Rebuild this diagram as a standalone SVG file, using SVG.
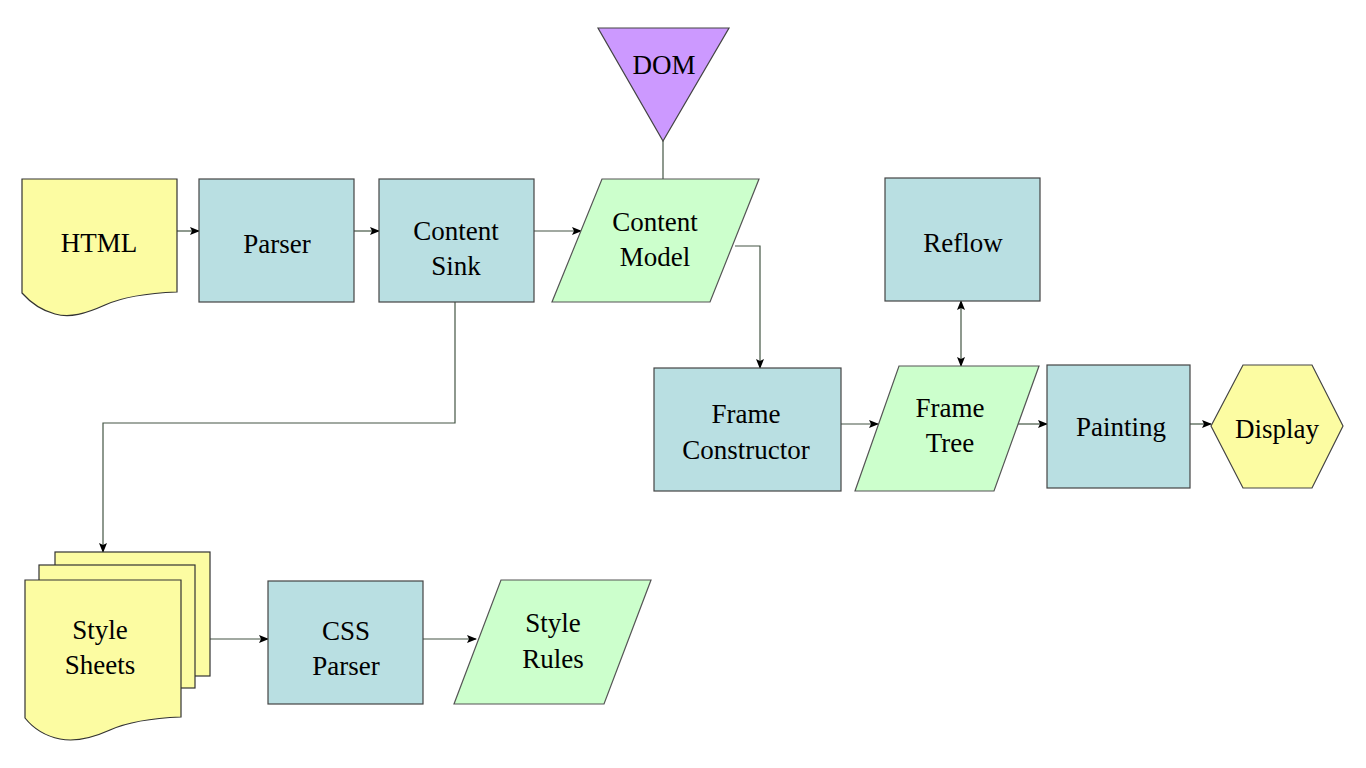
<svg xmlns="http://www.w3.org/2000/svg" width="1366" height="768" viewBox="0 0 1366 768">
<defs>
<marker id="arr" markerWidth="10" markerHeight="8" refX="9" refY="4" orient="auto" markerUnits="userSpaceOnUse">
<path d="M0,0 L10,4 L0,8 L2,4 Z" fill="#000"/>
</marker>
<marker id="arrs" markerWidth="10" markerHeight="8" refX="1" refY="4" orient="auto" markerUnits="userSpaceOnUse">
<path d="M10,0 L0,4 L10,8 L8,4 Z" fill="#000"/>
</marker>
</defs>
<style>
.doc{fill:#FCFCA2;stroke:#333;stroke-width:1.2}
.proc{fill:#B9DFE2;stroke:#444;stroke-width:1.2}
.data{fill:#CCFFCC;stroke:#555;stroke-width:1.2}
.dom{fill:#CC99FF;stroke:#444;stroke-width:1.2}
.hex{fill:#FCFCA2;stroke:#444;stroke-width:1.2}
text{font-family:'Liberation Serif','Times New Roman',Times,Tinos,'Noto Serif','DejaVu Serif',FreeSerif,serif;font-size:27px;fill:#000;text-anchor:middle}
.con{fill:none;stroke:#445544;stroke-width:1.2}
</style>
<rect width="1366" height="768" fill="#fff"/>
<g id="connectors">
<line class="con" x1="177" y1="231" x2="199" y2="231" marker-end="url(#arr)"/>
<line class="con" x1="354" y1="231" x2="379" y2="231" marker-end="url(#arr)"/>
<line class="con" x1="534" y1="231" x2="581" y2="231" marker-end="url(#arr)"/>
<line class="con" x1="663" y1="141" x2="663" y2="179"/>
<polyline class="con" points="735,246 760,246 760,368" marker-end="url(#arr)"/>
<polyline class="con" points="455,302 455,423 103,423 103,552" marker-end="url(#arr)"/>
<line class="con" x1="841" y1="424" x2="878" y2="424" marker-end="url(#arr)"/>
<line class="con" x1="961" y1="301" x2="961" y2="366" marker-start="url(#arrs)" marker-end="url(#arr)"/>
<line class="con" x1="1017" y1="424" x2="1047" y2="424" marker-end="url(#arr)"/>
<line class="con" x1="1190" y1="424" x2="1211" y2="424" marker-end="url(#arr)"/>
<line class="con" x1="210" y1="639" x2="268" y2="639" marker-end="url(#arr)"/>
<line class="con" x1="423" y1="639" x2="476" y2="639" marker-end="url(#arr)"/>
</g>
<g id="html">
<path class="doc" d="M22,179 L177,179 L177,292 C150,293 125,296 105,305 C85,314 70,318 55,314 C40,310 30,302 22,293 Z"/>
<text x="99" y="252">HTML</text>
</g>
<g id="parser">
<rect class="proc" x="199" y="179" width="155" height="123"/>
<text x="277" y="253">Parser</text>
</g>
<g id="content-sink">
<rect class="proc" x="379" y="179" width="155" height="123"/>
<text x="456" y="240">Content</text>
<text x="456" y="275">Sink</text>
</g>
<g id="dom">
<polygon class="dom" points="598,28 729,28 663,141"/>
<text x="664" y="74">DOM</text>
</g>
<g id="content-model">
<polygon class="data" points="602,179 759,179 710,302 552,302"/>
<text x="655" y="231">Content</text>
<text x="655" y="266">Model</text>
</g>
<g id="reflow">
<rect class="proc" x="885" y="178" width="155" height="123"/>
<text x="963" y="252">Reflow</text>
</g>
<g id="frame-constructor">
<rect class="proc" x="654" y="368" width="187" height="123"/>
<text x="746" y="423">Frame</text>
<text x="746" y="459">Constructor</text>
</g>
<g id="frame-tree">
<polygon class="data" points="899,366 1039,366 994,491 855,491"/>
<text x="950" y="417">Frame</text>
<text x="950" y="452">Tree</text>
</g>
<g id="painting">
<rect class="proc" x="1047" y="365" width="143" height="123"/>
<text x="1121" y="436">Painting</text>
</g>
<g id="display">
<polygon class="hex" points="1211,426 1243,365 1312,365 1343,426 1312,488 1243,488"/>
<text x="1277" y="438">Display</text>
</g>
<g id="style-sheets">
<rect class="doc" x="55" y="552" width="155" height="124"/>
<rect class="doc" x="39" y="565" width="156" height="123"/>
<path class="doc" d="M25,580 L181,580 L181,717 C155,718 130,721 110,730 C90,739 75,742 60,739 C45,736 33,728 25,718 Z"/>
<text x="100" y="639">Style</text>
<text x="100" y="674">Sheets</text>
</g>
<g id="css-parser">
<rect class="proc" x="268" y="581" width="155" height="123"/>
<text x="346" y="640">CSS</text>
<text x="346" y="675">Parser</text>
</g>
<g id="style-rules">
<polygon class="data" points="501,580 651,580 604,704 454,704"/>
<text x="553" y="632">Style</text>
<text x="553" y="668">Rules</text>
</g>
</svg>
